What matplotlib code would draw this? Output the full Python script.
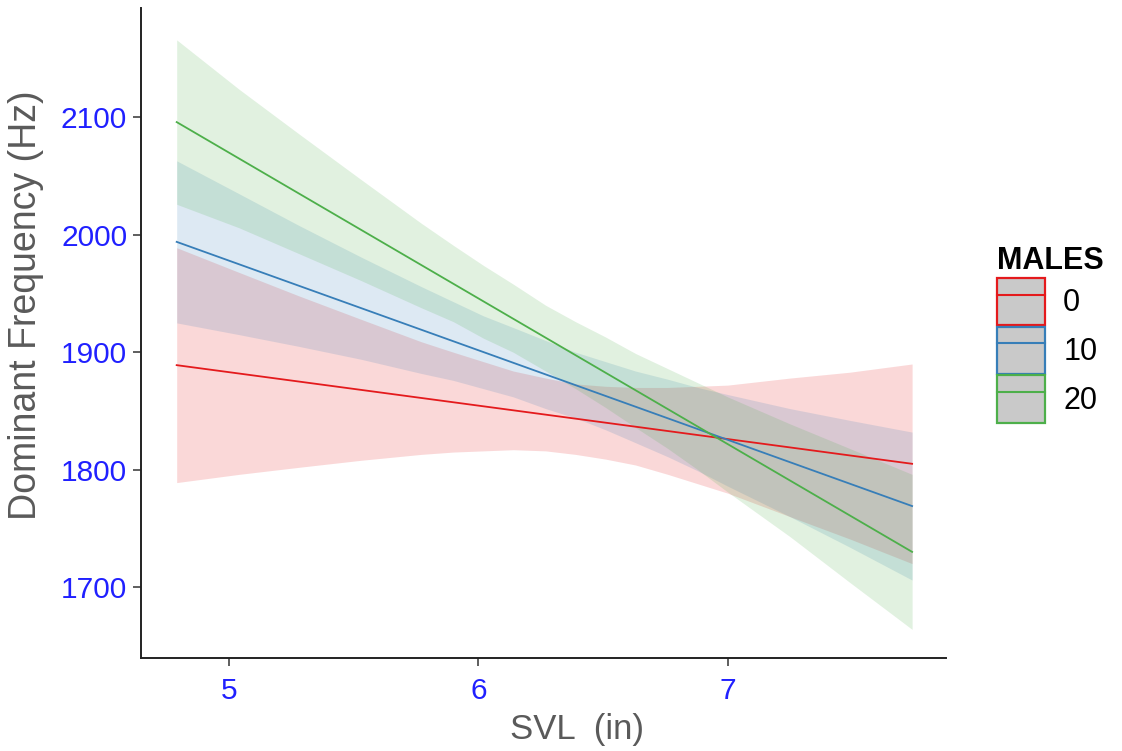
import matplotlib.pyplot as plt
from matplotlib.patches import Patch
from matplotlib.lines import Line2D

plt.rcParams["font.family"] = ["Liberation Sans", "DejaVu Sans"]

# fitted lines are straight: values at the two ends of the SVL range
svl_ends = [4.79, 7.74]
fit_0 = [1889, 1805]
fit_10 = [1994, 1769]
fit_20 = [2096, 1730]

# SVL grid (in) for the confidence ribbons
svl = [4.79, 5.04, 5.28, 5.53, 5.77, 5.90, 6.02, 6.14, 6.27, 6.39, 6.51, 6.63,
       6.76, 6.88, 7.00, 7.25, 7.49, 7.74]

# ribbon limits (Hz)
lo_0 = [1789, 1796, 1802, 1808, 1813, 1815, 1816, 1817, 1816, 1813, 1809, 1804,
        1796, 1788, 1780, 1760, 1741, 1720]
hi_0 = [1989, 1968, 1948, 1928, 1909, 1900, 1892, 1884, 1878, 1873, 1871, 1870,
        1870, 1871, 1872, 1878, 1883, 1890]
lo_10 = [1925, 1915, 1905, 1894, 1882, 1876, 1869, 1862, 1852, 1844, 1834, 1823,
         1811, 1799, 1786, 1760, 1734, 1706]
hi_10 = [2063, 2035, 2008, 1981, 1956, 1943, 1931, 1921, 1910, 1900, 1892, 1884,
         1877, 1870, 1864, 1852, 1842, 1832]
lo_20 = [2026, 2006, 1984, 1961, 1938, 1926, 1912, 1900, 1884, 1869, 1853, 1836,
         1818, 1800, 1781, 1743, 1704, 1664]
hi_20 = [2166, 2124, 2086, 2047, 2010, 1991, 1974, 1958, 1940, 1926, 1913, 1899,
         1886, 1874, 1862, 1839, 1818, 1796]

levels = ["0", "10", "20"]
colors = ["#E41A1C", "#377EB8", "#4DAF4A"]
fits = [fit_0, fit_10, fit_20]
lows = [lo_0, lo_10, lo_20]
highs = [hi_0, hi_10, hi_20]

fig = plt.figure(figsize=(11.22, 7.51), dpi=100)
ax = fig.add_axes([0.1257, 0.1238, 0.717, 0.865])

for lo, hi, c in zip(lows, highs, colors):
    ax.fill_between(svl, lo, hi, color=c, alpha=0.17, linewidth=0)
for f, c in zip(fits, colors):
    ax.plot(svl_ends, f, color=c, lw=1.3)

ax.set_xlim(4.647, 7.874)
ax.set_ylim(1639.6, 2192.8)
ax.set_xticks([5, 6, 7])
ax.set_yticks([1700, 1800, 1900, 2000, 2100])

for s in ["top", "right"]:
    ax.spines[s].set_visible(False)
for s in ["left", "bottom"]:
    ax.spines[s].set_linewidth(1.4)
    ax.spines[s].set_color("#222222")

ax.tick_params(axis="both", direction="out", length=6, width=1.1, color="#333333",
               labelsize=21.5, labelcolor="#2020ff")
ax.tick_params(axis="y", pad=4)
ax.tick_params(axis="x", pad=8)
ax.set_xlabel("SVL  (in)", fontsize=25, color="#5a5a5a")
ax.set_ylabel("Dominant Frequency (Hz)", fontsize=27, color="#5a5a5a")
ax.xaxis.set_label_coords(0.542, -0.085)
ax.yaxis.set_label_coords(-0.12, 0.543)

handles = [(Patch(facecolor="#c9c9c9", edgecolor=c, linewidth=1.6),
            Line2D([], [], color=c, lw=1.5)) for c in colors]
leg = fig.legend(handles, levels, title="MALES", loc="upper left",
                 bbox_to_anchor=(0.889, 0.672), frameon=False, fontsize=22,
                 title_fontproperties={"weight": "bold", "size": 22},
                 handlelength=1.55, handleheight=2.0, labelspacing=0.05,
                 handletextpad=0.6, borderaxespad=0, borderpad=0)
leg._legend_box.align = "left"

fig.savefig("out.png", dpi=100)
